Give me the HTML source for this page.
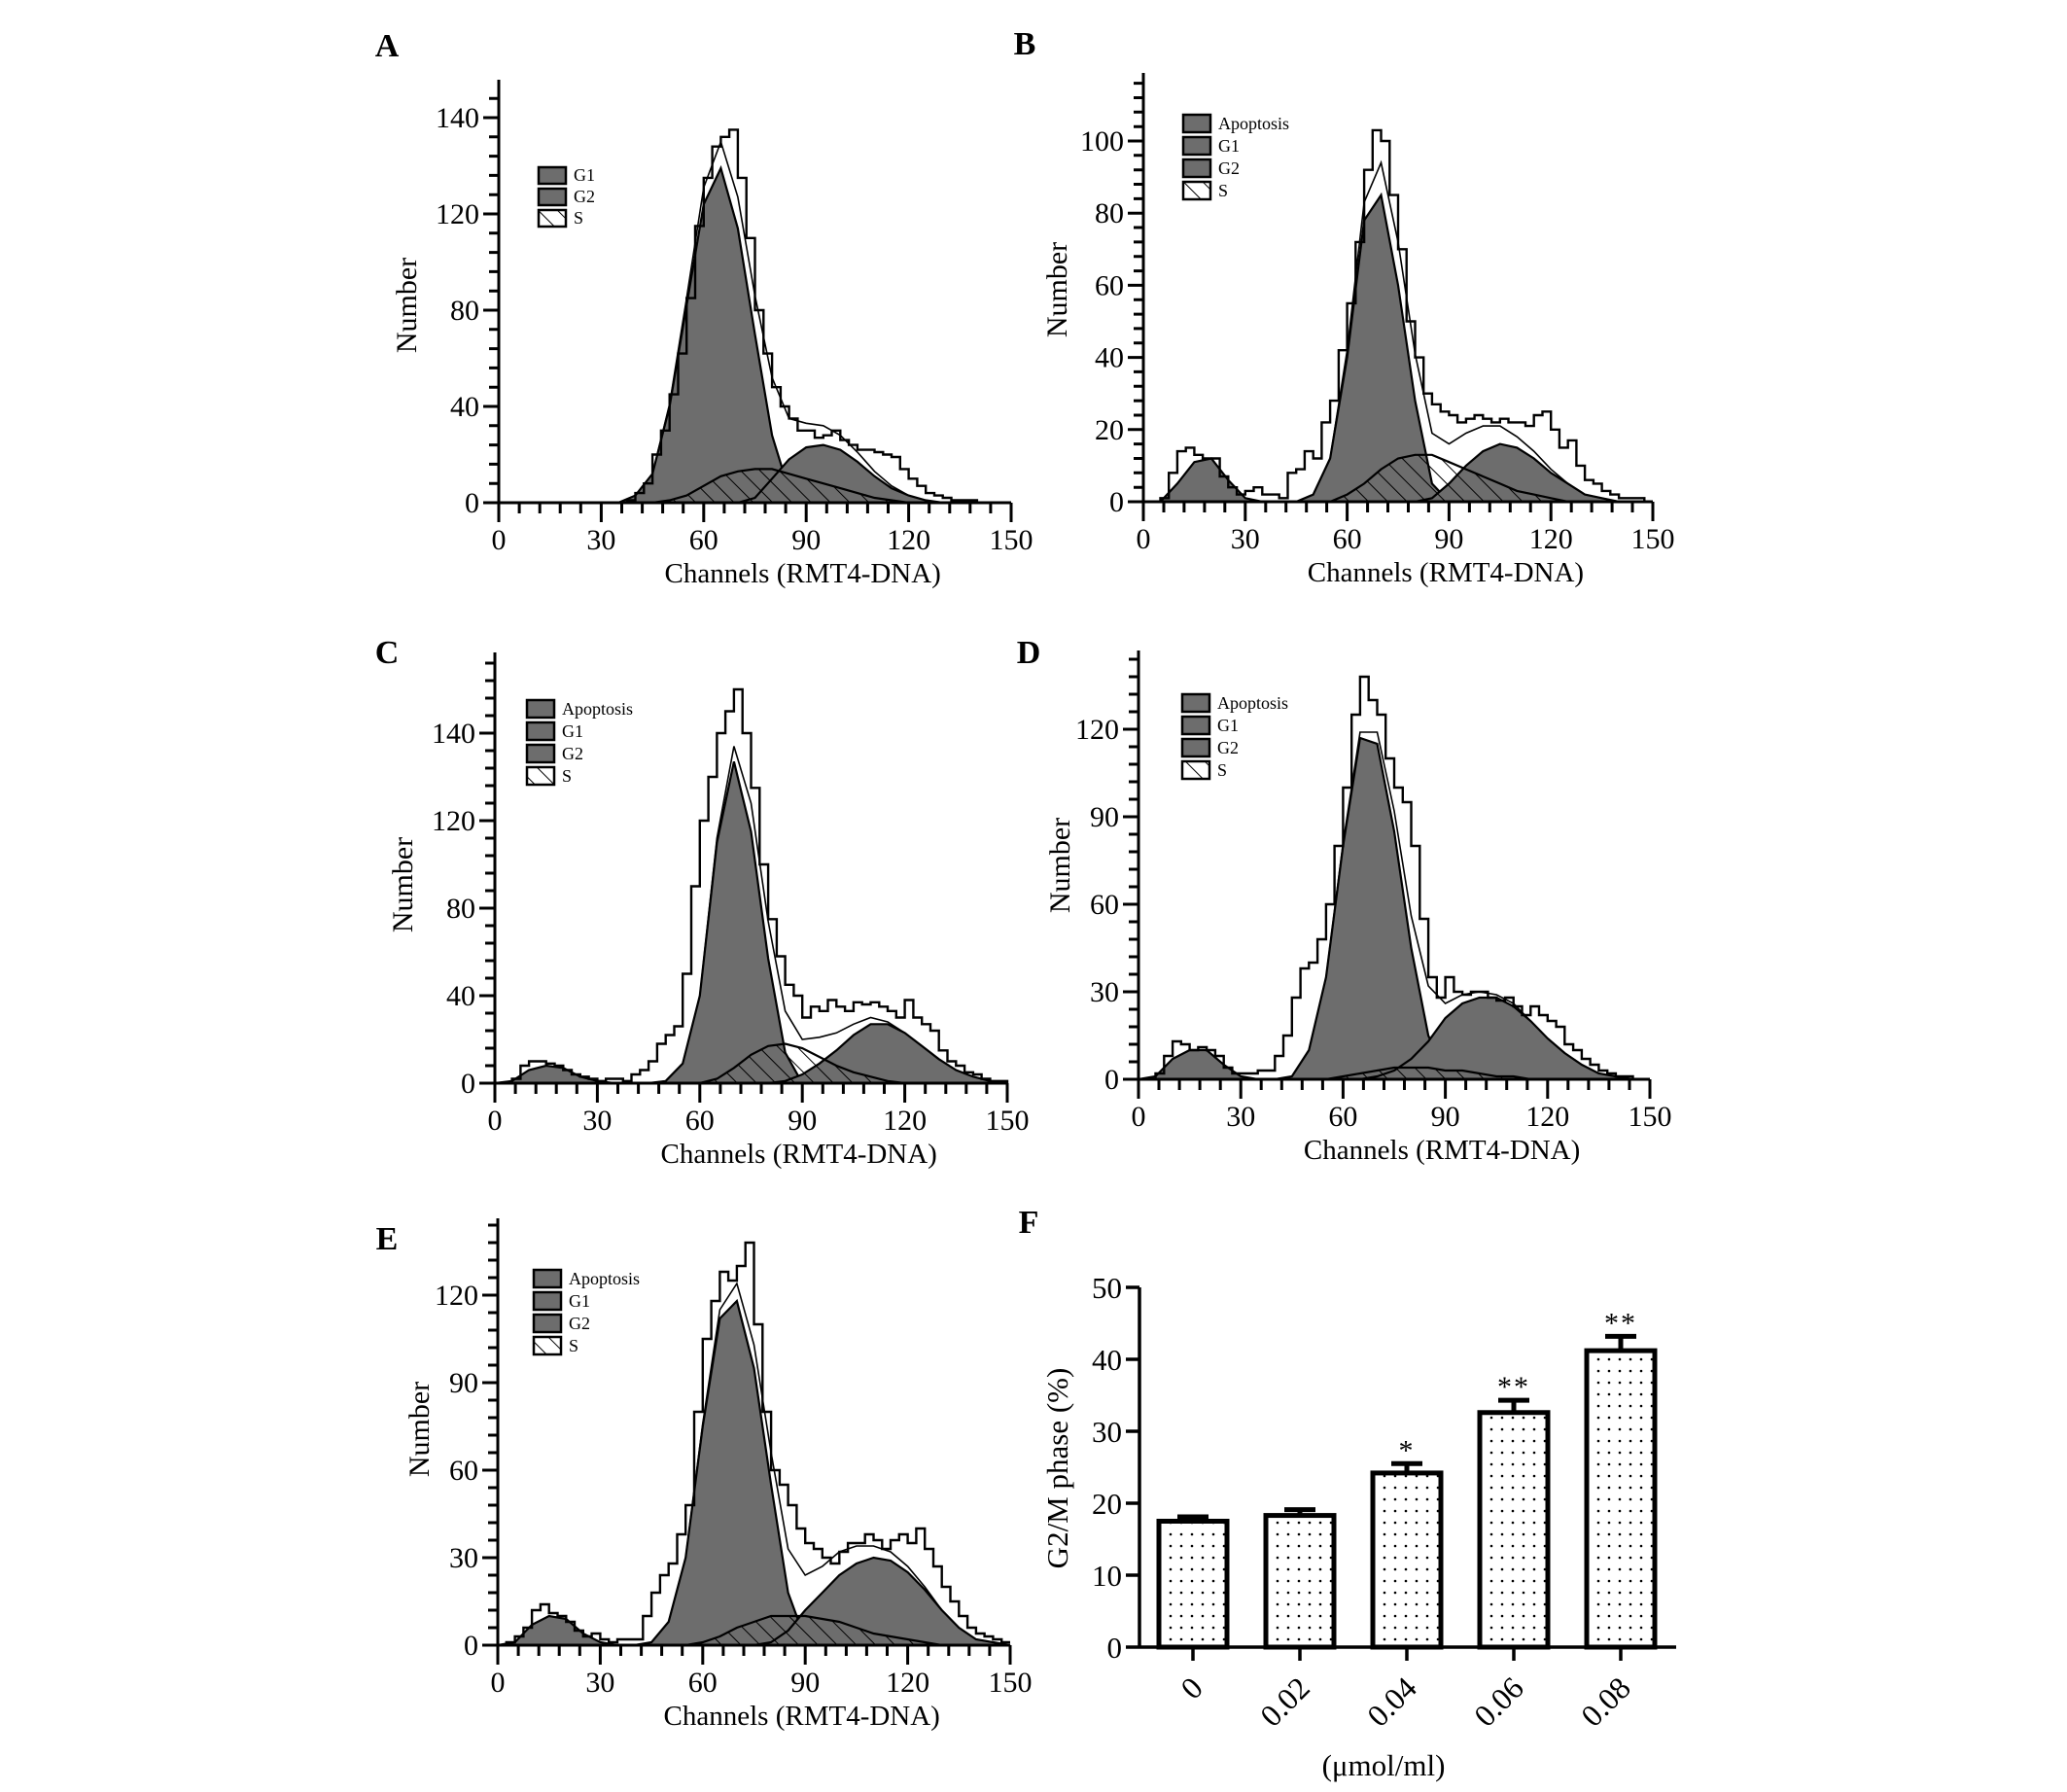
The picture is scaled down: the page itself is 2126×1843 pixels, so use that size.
<!DOCTYPE html>
<html><head><meta charset="utf-8"><style>
html,body{margin:0;padding:0;background:#fff;}
svg{display:block;}
text{font-family:"Liberation Serif",serif;fill:#000;}
</style></head><body>
<svg id="fig" xmlns="http://www.w3.org/2000/svg" width="2126" height="1843" viewBox="0 0 2126 1843">
<defs>
<pattern id="hatch" patternUnits="userSpaceOnUse" width="14" height="14" patternTransform="rotate(-45)">
<rect width="14" height="14" fill="#fff" fill-opacity="0"/>
<line x1="0" y1="0" x2="0" y2="14" stroke="#000" stroke-width="2"/>
</pattern>
<pattern id="dots" patternUnits="userSpaceOnUse" width="11" height="12">
<rect width="11" height="12" fill="#fff"/>
<circle cx="5" cy="6" r="1.3" fill="#000"/>
</pattern>
</defs>
</svg>
<script>
// ---------- Histogram data (channels 0..150) ----------
// raw data sampled every 2.5 channels; fitted components every 5 channels
const rawA=[0,0,0,0,0,0,0,0,0,0,0,0,0,0,0,1,4,8,20,30,45,62,85,115,135,148,152,155,135,110,80,62,48,40,35,30,30,27,28,30,26,24,22,22,21,20,19,14,10,7,4,3,2,1,1,1,0,0,0,0,0];
const g1A=[0,0,0,0,0,0,0,0,3,12,40,82,124,139,114,70,28,5,0,0,0,0,0,0,0,0,0,0,0,0,0];
const g2A=[0,0,0,0,0,0,0,0,0,0,0,0,0,0,0,2,10,18,23,24,22,17,11,6,3,1,0,0,0,0,0];
const sA=[0,0,0,0,0,0,0,0,0,0,1,3,7,11,13,14,14,12,10,8,6,4,2,1,0,0,0,0,0,0,0];

const rawB=[0,0,1,8,14,15,13,12,12,7,4,2,3,4,2,2,1,8,9,14,12,22,28,42,55,72,92,103,100,85,70,50,40,30,27,25,24,22,23,24,23,22,23,22,22,21,24,25,20,15,17,10,6,5,3,2,1,1,1,0,0];
const apB=[0,0,5,11,12,6,1,0,0,0,0,0,0,0,0,0,0,0,0,0,0,0,0,0,0,0,0,0,0,0,0];
const g1B=[0,0,0,0,0,0,0,0,0,0,2,12,40,78,85,60,28,5,0,0,0,0,0,0,0,0,0,0,0,0,0];
const sB=[0,0,0,0,0,0,0,0,0,0,0,0,2,5,9,12,13,13,11,9,7,5,3,2,1,0,0,0,0,0,0];
const g2B=[0,0,0,0,0,0,0,0,0,0,0,0,0,0,0,0,0,1,5,10,14,16,15,12,8,5,2,1,0,0,0];

const rawC=[0,0,2,8,10,10,9,8,6,4,3,2,1,2,2,1,4,6,10,18,22,26,50,90,120,140,160,170,180,160,135,100,75,58,45,40,30,35,33,38,35,33,37,36,37,35,33,30,38,30,27,24,15,10,8,5,4,2,1,1,0];
const apC=[0,1,6,8,7,3,1,0,0,0,0,0,0,0,0,0,0,0,0,0,0,0,0,0,0,0,0,0,0,0,0];
const g1C=[0,0,0,0,0,0,0,0,0,0,1,9,40,110,147,115,57,14,0,0,0,0,0,0,0,0,0,0,0,0,0];
const sC=[0,0,0,0,0,0,0,0,0,0,0,0,0,2,7,13,17,18,16,12,8,5,3,1,0,0,0,0,0,0,0];
const g2C=[0,0,0,0,0,0,0,0,0,0,0,0,0,0,0,0,0,1,4,9,15,22,27,27,23,17,11,6,3,1,0];

const rawD=[0,0,2,8,13,12,10,11,10,8,4,2,2,2,3,3,8,15,28,38,40,48,60,80,100,125,138,130,125,110,100,95,80,55,35,28,35,30,29,30,30,28,27,28,25,22,25,22,20,18,12,10,7,5,3,2,1,1,0,0,0];
const apD=[0,1,7,10,10,5,1,0,0,0,0,0,0,0,0,0,0,0,0,0,0,0,0,0,0,0,0,0,0,0,0];
const g1D=[0,0,0,0,0,0,0,0,0,1,10,35,80,117,115,85,45,15,2,0,0,0,0,0,0,0,0,0,0,0,0];
const sD=[0,0,0,0,0,0,0,0,0,0,0,0,1,2,3,4,4,4,3,3,2,1,1,0,0,0,0,0,0,0,0];
const g2D=[0,0,0,0,0,0,0,0,0,0,0,0,0,0,1,3,7,13,21,26,28,28,25,20,14,9,5,2,1,0,0];

const rawE=[0,1,3,6,12,14,11,10,8,5,3,4,2,1,2,2,2,10,18,24,28,38,48,80,105,118,128,125,130,138,110,80,60,55,48,40,35,33,30,28,32,35,35,38,36,33,36,38,35,40,33,27,20,15,10,6,4,3,2,1,1];
const apE=[0,1,7,10,9,4,1,0,0,0,0,0,0,0,0,0,0,0,0,0,0,0,0,0,0,0,0,0,0,0,0];
const g1E=[0,0,0,0,0,0,0,0,0,1,8,30,75,112,118,95,55,18,2,0,0,0,0,0,0,0,0,0,0,0,0];
const sE=[0,0,0,0,0,0,0,0,0,0,0,0,1,3,6,8,10,10,10,9,8,6,4,3,2,1,0,0,0,0,0];
const g2E=[0,0,0,0,0,0,0,0,0,0,0,0,0,0,0,0,1,5,12,18,24,28,30,29,25,19,12,6,2,1,0];

const xTicksHist=[0,30,60,90,120,150];
// tick values (positions on the value scale) and the printed labels
const yTicksA=[0,40,80,120,160];
const yLabelsA=["0","40","80","120","140"];
const yTicksB=[0,20,40,60,80,100];
const yLabelsB=["0","20","40","60","80","100"];
const yTicksC=[0,40,80,120,160];
const yLabelsC=["0","40","80","120","140"];
const yTicksD=[0,30,60,90,120];
const yLabelsD=["0","30","60","90","120"];
const yTicksE=[0,30,60,90,120];
const yLabelsE=["0","30","60","90","120"];

// ---------- Bar chart data (panel F) ----------
const doseLabels=["0","0.02","0.04","0.06","0.08"];
const g2mMeans=[17.5,18.3,24.2,32.6,41.2];
const g2mErrTop=[18.1,19.1,25.5,34.3,43.2];
const sigMarks=["","","*","**","**"];
const yTicksF=[0,10,20,30,40,50];

const NS="http://www.w3.org/2000/svg";
const svg=document.getElementById('fig');
function mk(tag,attrs,parent){const e=document.createElementNS(NS,tag);for(const k in attrs)e.setAttribute(k,attrs[k]);(parent||svg).appendChild(e);return e;}

function panel(cfg){
  const g=mk('g',{});
  
  
  const X=v=>cfg.x0+(cfg.x1-cfg.x0)*v/150;
  const Y=v=>cfg.y0-(cfg.y0-cfg.yRef)*v/cfg.ref;
  const lt=mk('text',{x:cfg.lx,y:cfg.ly,'font-size':34,'font-weight':'bold','text-anchor':'middle'},g);
  lt.textContent=cfg.id;
  
  
  function area(arr,fill,name){
    let d='M'+X(0)+','+Y(0);
    arr.forEach((v,i)=>{d+=' L'+X(i*5).toFixed(1)+','+Y(v).toFixed(1);});
    d+=' L'+X(150)+','+Y(0)+' Z';
    const p=mk('path',{d:d,fill:fill,stroke:'#000','stroke-width':2.2},g);
    
    
  }
  if(cfg.ap) area(cfg.ap,'#6d6d6d','apoptosis-area');
  area(cfg.g1,'#6d6d6d','g1-area');
  area(cfg.g2,'#6d6d6d','g2-area');
  area(cfg.s,'url(#hatch)','s-area');
  let d='';
  for(let i=0;i<31;i++){const v=(cfg.ap?cfg.ap[i]:0)+cfg.g1[i]+cfg.g2[i]+cfg.s[i];d+=(i?' L':'M')+X(i*5).toFixed(1)+','+Y(v).toFixed(1);}
  const env=mk('path',{d:d,fill:'none',stroke:'#000','stroke-width':1.6},g);
  
  
  d='M'+X(0)+','+Y(cfg.raw[0]);
  cfg.raw.forEach((v,i)=>{const xx=X(Math.min(150,i*2.5+2.5));d+=' V'+Y(v).toFixed(1)+' H'+xx.toFixed(1);});
  const rw=mk('path',{d:d,fill:'none',stroke:'#000','stroke-width':2.4},g);
  
  
  const ax=mk('path',{d:'M'+cfg.x0+','+cfg.top+' V'+cfg.y0+' M'+(cfg.x0-10)+','+cfg.y0+' H'+X(150),stroke:'#000','stroke-width':3,fill:'none'},g);
  
  
  let td='';
  const vmax=(cfg.y0-cfg.top)/((cfg.y0-cfg.yRef)/cfg.ref);
  for(let v=cfg.minor;v<=vmax;v+=cfg.minor){td+=' M'+(cfg.x0-10)+','+Y(v).toFixed(1)+' H'+cfg.x0;}
  cfg.yt.forEach(v=>{td+=' M'+(cfg.x0-16)+','+Y(v).toFixed(1)+' H'+cfg.x0;});
  for(let v=0;v<=150;v+=6){td+=' M'+X(v).toFixed(1)+','+cfg.y0+' v'+(v%30===0?20:11);}
  mk('path',{d:td,stroke:'#000','stroke-width':3,fill:'none'},g);
  cfg.yt.forEach((v,i)=>{
    const t=mk('text',{x:cfg.x0-20,y:Y(v)+10,'font-size':30,'text-anchor':'end'},g);
    t.textContent=cfg.yl[i];
    
    
  });
  xTicksHist.forEach(v=>{
    const t=mk('text',{x:X(v),y:cfg.y0+48,'font-size':30,'text-anchor':'middle'},g);
    t.textContent=v;
    
    
  });
  const xt=mk('text',{x:X(89),y:cfg.y0+82,'font-size':29,'text-anchor':'middle'},g);
  xt.textContent='Channels (RMT4-DNA)';
  
  
  const yt=mk('text',{x:0,y:0,'font-size':30,'text-anchor':'middle',transform:'translate('+cfg.nx+','+cfg.ny+') rotate(-90)'},g);
  yt.textContent='Number';
  
  
  const names=cfg.ap?['Apoptosis','G1','G2','S']:['G1','G2','S'];
  names.forEach((n,i)=>{
    const yy=cfg.legY+i*cfg.legStep;
    const r=mk('rect',{x:cfg.legX,y:yy,width:28,height:cfg.legStep-5,fill:n==='S'?'url(#hatch)':'#6d6d6d',stroke:'#000','stroke-width':2.5},g);
    
    
    const t=mk('text',{x:cfg.legX+36,y:yy+cfg.legStep-8,'font-size':18},g);
    t.textContent=n;
    
    
  });
}

panel({id:'A',x0:513,x1:1040,y0:517,yRef:418,ref:40,top:82,minor:8,yt:yTicksA,yl:yLabelsA,raw:rawA,g1:g1A,g2:g2A,s:sA,lx:398,ly:58,nx:428,ny:314,legX:554,legY:172,legStep:22});
panel({id:'B',x0:1176,x1:1700,y0:516,yRef:145,ref:100,top:75,minor:4,yt:yTicksB,yl:yLabelsB,raw:rawB,ap:apB,g1:g1B,g2:g2B,s:sB,lx:1054,ly:56,nx:1097,ny:298,legX:1217,legY:118,legStep:23});
panel({id:'C',x0:509,x1:1036,y0:1114,yRef:1024,ref:40,top:671,minor:8,yt:yTicksC,yl:yLabelsC,raw:rawC,ap:apC,g1:g1C,g2:g2C,s:sC,lx:398,ly:682,nx:424,ny:910,legX:542,legY:720,legStep:23});
panel({id:'D',x0:1171,x1:1697,y0:1110,yRef:1020,ref:30,top:669,minor:6,yt:yTicksD,yl:yLabelsD,raw:rawD,ap:apD,g1:g1D,g2:g2D,s:sD,lx:1058,ly:682,nx:1100,ny:890,legX:1216,legY:714,legStep:23});
panel({id:'E',x0:512,x1:1039,y0:1692,yRef:1602,ref:30,top:1253,minor:6,yt:yTicksE,yl:yLabelsE,raw:rawE,ap:apE,g1:g1E,g2:g2E,s:sE,lx:398,ly:1285,nx:441,ny:1470,legX:549,legY:1306,legStep:23});

// ---------- Panel F ----------
(function(){
  const g=mk('g',{});
  
  
  const ax0=1172,axR=1724,y0=1694,y50=1324;
  const Y=v=>y0-(y0-y50)*v/50;
  const step=110,first=1227,bw=70;
  const X=i=>first+i*step;
  const lt=mk('text',{x:1058,y:1268,'font-size':34,'font-weight':'bold','text-anchor':'middle'},g);
  lt.textContent='F';
  
  
  g2mMeans.forEach((v,i)=>{
    const cx=X(i);
    const e=mk('path',{d:'M'+cx+','+Y(v)+' V'+Y(g2mErrTop[i])+' M'+(cx-16)+','+Y(g2mErrTop[i])+' H'+(cx+16),stroke:'#000','stroke-width':5,fill:'none'},g);
    
    
    const r=mk('rect',{x:cx-bw/2,y:Y(v),width:bw,height:Y(0)-Y(v),fill:'url(#dots)',stroke:'#000','stroke-width':5},g);
    
    
    if(sigMarks[i]){
      const t=mk('text',{x:cx,y:Y(g2mErrTop[i])-4,'font-size':30,'text-anchor':'middle','letter-spacing':'2'},g);
      t.textContent=sigMarks[i];
      
      
    }
    const t=mk('text',{x:0,y:0,'font-size':32,'text-anchor':'end',transform:'translate('+(cx+12)+','+(y0+44)+') rotate(-45)'},g);
    t.textContent=doseLabels[i];
    
    
  });
  let td='M'+ax0+','+(y50)+' V'+y0+' H'+axR;
  yTicksF.forEach(v=>{td+=' M'+(ax0-14)+','+Y(v)+' H'+ax0;});
  g2mMeans.forEach((v,i)=>{td+=' M'+X(i)+','+y0+' v14';});
  const ax=mk('path',{d:td,stroke:'#000','stroke-width':3.5,fill:'none'},g);
  
  
  yTicksF.forEach(v=>{
    const t=mk('text',{x:ax0-18,y:Y(v)+11,'font-size':31,'text-anchor':'end'},g);
    t.textContent=v;
    
    
  });
  const yt=mk('text',{x:0,y:0,'font-size':31,'text-anchor':'middle',transform:'translate(1098,1510) rotate(-90)'},g);
  yt.textContent='G2/M phase (%)';
  
  
  const xt=mk('text',{x:1423,y:1826,'font-size':31,'text-anchor':'middle'},g);
  xt.textContent='(μmol/ml)';
  
  
})();
</script>
</body></html>
